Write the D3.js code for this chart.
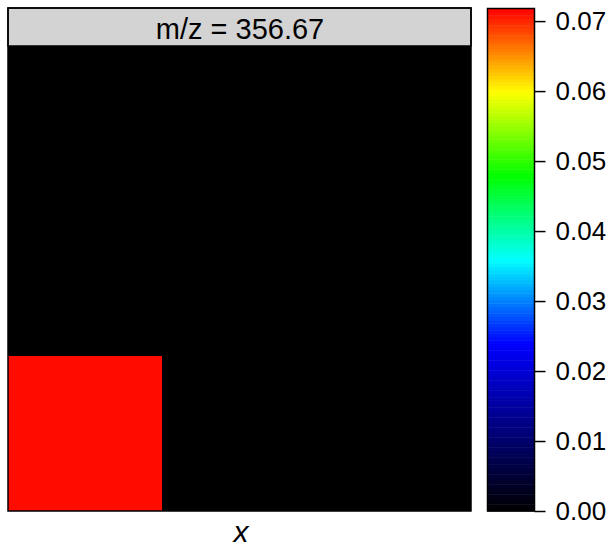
<!DOCTYPE html>
<html>
<head>
<meta charset="utf-8">
<script src="https://cdn.jsdelivr.net/npm/d3@7"></script>
<style>
  body { margin: 0; background: #fff; }
  text { font-family: "Liberation Sans", Arial, sans-serif; }
</style>
</head>
<body>
<div id="chart"></div>
<script>
// data: 3x3 ion image, intensity for m/z 356.67
var xs = [1, 2, 3];
var ys = [1, 2, 3];
var intensity = [
  // [x, y, value]
  [1, 1, 0.0713], [2, 1, 0], [3, 1, 0],
  [1, 2, 0],      [2, 2, 0], [3, 2, 0],
  [1, 3, 0],      [2, 3, 0], [3, 3, 0]
];
var stripLabel = "m/z = 356.67";
var colorMax = 0.0718;
var colorTicks = [0, 0.01, 0.02, 0.03, 0.04, 0.05, 0.06, 0.07];

var width = 612, height = 547;
var panel = {left: 8, right: 471, top: 8, strip: 46, bottom: 511};
var bar = {left: 487.5, right: 534.5, top: 8.5, bottom: 511};

// intensity colours: black -> blue, then rainbow blue -> red
var intensityColor = function(v) {
  var t = Math.max(0, Math.min(1, v / colorMax));
  if (t <= 1 / 3) {
    return d3.rgb(0, 0, Math.round(255 * t * 3)).toString();
  }
  var h = (1 - t) * 360;
  return d3.hsl(h, 1, 0.5).toString();
};

var svg = d3.select("#chart").append("svg")
  .attr("width", width)
  .attr("height", height);

// Set the ranges
var x = d3.scaleBand().domain(xs).range([panel.left, panel.right]);
var y = d3.scaleBand().domain(ys).range([panel.bottom, panel.strip]);

// panel background
svg.append("rect")
  .attr("x", panel.left).attr("y", panel.strip)
  .attr("width", panel.right - panel.left)
  .attr("height", panel.bottom - panel.strip)
  .attr("fill", "#000");

// cells
svg.selectAll("rect.cell")
  .data(intensity)
  .enter().append("rect")
    .attr("class", "cell")
    .attr("x", function(d) { return x(d[0]); })
    .attr("y", function(d) { return y(d[1]); })
    .attr("width", x.bandwidth())
    .attr("height", y.bandwidth())
    .attr("fill", function(d) { return intensityColor(d[2]); })
    .attr("shape-rendering", "crispEdges");

// strip
svg.append("rect")
  .attr("x", panel.left).attr("y", panel.top)
  .attr("width", panel.right - panel.left)
  .attr("height", panel.strip - panel.top)
  .attr("fill", "#d3d3d3")
  .attr("stroke", "#000")
  .attr("stroke-width", 1.5);

svg.append("text")
  .attr("x", 240)
  .attr("y", 39)
  .attr("text-anchor", "middle")
  .style("font-size", "29px")
  .attr("fill", "#000")
  .text(stripLabel);

// panel border
svg.append("rect")
  .attr("x", panel.left).attr("y", panel.top)
  .attr("width", panel.right - panel.left)
  .attr("height", panel.bottom - panel.top)
  .attr("fill", "none")
  .attr("stroke", "#000")
  .attr("stroke-width", 1.5);

// x label
svg.append("text")
  .attr("x", 241)
  .attr("y", 542)
  .attr("text-anchor", "middle")
  .style("font-size", "30px")
  .style("font-style", "italic")
  .text("x");

// colour key
var c = d3.scaleLinear().domain([0, colorMax]).range([bar.bottom, bar.top]);
var nBands = 150;
var bands = d3.range(nBands);
svg.selectAll("rect.band")
  .data(bands)
  .enter().append("rect")
    .attr("class", "band")
    .attr("x", bar.left)
    .attr("width", bar.right - bar.left)
    .attr("y", function(i) { return c((i + 1) * colorMax / nBands); })
    .attr("height", function(i) { return c(i * colorMax / nBands) - c((i + 1) * colorMax / nBands) + 0.5; })
    .attr("fill", function(i) { return intensityColor((i + 0.5) * colorMax / nBands); });

svg.append("rect")
  .attr("x", bar.left).attr("y", bar.top)
  .attr("width", bar.right - bar.left)
  .attr("height", bar.bottom - bar.top)
  .attr("fill", "none")
  .attr("stroke", "#000")
  .attr("stroke-width", 1.5);

var cAxis = d3.axisRight(c)
  .tickValues(colorTicks)
  .tickFormat(d3.format(".2f"))
  .tickSize(11)
  .tickPadding(10);

var g = svg.append("g")
  .attr("transform", "translate(" + bar.right + ",0)")
  .call(cAxis);
g.select(".domain").remove();
g.selectAll(".tick line").attr("stroke", "#000").attr("stroke-width", 1.5);
g.selectAll(".tick text")
  .style("font-size", "26px")
  .style("font-family", "Liberation Sans, Arial, sans-serif")
  .attr("fill", "#000");
</script>
</body>
</html>
